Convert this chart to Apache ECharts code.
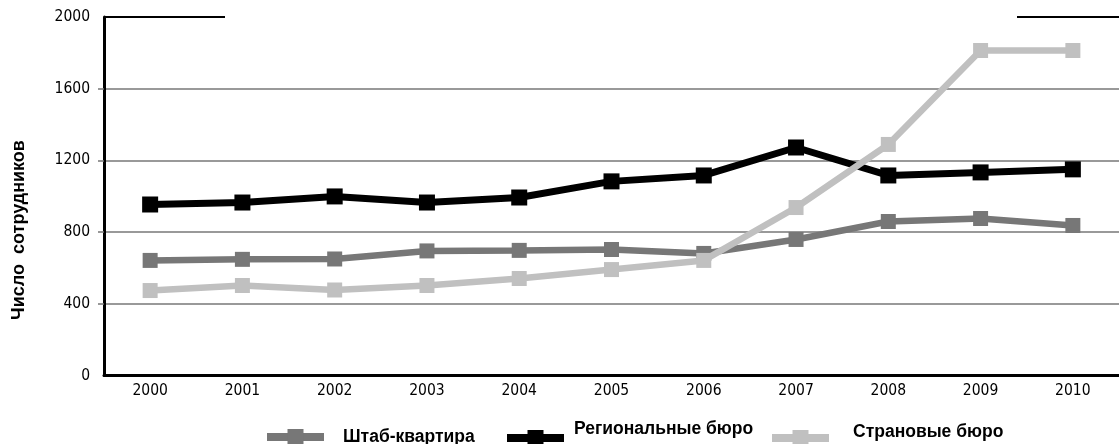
<!DOCTYPE html>
<html>
<head>
<meta charset="utf-8">
<script src="https://cdn.jsdelivr.net/npm/echarts@6/dist/echarts.min.js"></script>
<style>
  html, body { margin: 0; padding: 0; background: #fff; }
  #chart { width: 1119px; height: 444px; }
</style>
</head>
<body>
<div id="chart"></div>
<script>
const years = ['2000','2001','2002','2003','2004','2005','2006','2007','2008','2009','2010'];
const headquarters = [642, 648, 650, 695, 698, 703, 681, 759, 859, 876, 837];
const regionalOffices = [954, 965, 999, 965, 993, 1083, 1116, 1272, 1116, 1133, 1150];
const countryOffices = [474, 502, 477, 502, 541, 591, 642, 937, 1289, 1813, 1813];
const yTicks = [400, 800, 1200, 1600];
const seriesNames = ['Штаб-квартира', 'Региональные бюро', 'Страновые бюро'];
const yAxisTitle = 'Число  сотрудников';

const narrow = "'Liberation Sans Narrow', 'Arial Narrow', 'DejaVu Sans Condensed', sans-serif";
const boldFont = "'Liberation Sans', Arial, sans-serif";
const colors = ['#777777', '#000000', '#c0c0c0'];

const chart = echarts.init(document.getElementById('chart'));

function mkLegend(i, left, top, textPad) {
  return {
    show: true,
    data: [seriesNames[i]],
    left: left, top: top,
    orient: 'horizontal',
    itemWidth: 57, itemHeight: 20,
    padding: 0,
    selectedMode: false,
    lineStyle: { width: 8 },
    formatter: function (name) { return '{t|' + name + '}'; },
    textStyle: {
      fontFamily: boldFont, fontWeight: 'bold', fontSize: 17.5, color: '#000',
      rich: { t: { fontFamily: boldFont, fontWeight: 'bold', fontSize: 17.5, color: '#000', padding: textPad } }
    }
  };
}

const option = {
  animation: false,
  backgroundColor: '#fff',
  grid: { left: 104, top: 17, width: 1027, bottom: 68.5, containLabel: false },
  xAxis: {
    type: 'category',
    data: years,
    boundaryGap: true,
    axisLine: { show: true, lineStyle: { color: '#000', width: 3 } },
    axisTick: { show: false },
    axisLabel: { fontFamily: narrow, fontSize: 15.5, color: '#000', margin: 7 },
    splitLine: { show: false }
  },
  yAxis: {
    type: 'value',
    min: 0, max: 2000, interval: 400,
    axisLine: { show: true, lineStyle: { color: '#000', width: 3 } },
    axisTick: { show: true, length: 6, customValues: yTicks, lineStyle: { color: '#777', width: 1.5 } },
    axisLabel: { fontFamily: narrow, fontSize: 15.5, color: '#000', margin: 14, formatter: function (v) { return String(v); } },
    splitLine: { show: true, lineStyle: { color: '#777', width: 1.5 } }
  },
  legend: [
    mkLegend(0, 263, 428, [0, 0, 0, 14]),
    mkLegend(1, 503, 420.5, [0, 0, 17, 5]),
    mkLegend(2, 768, 423, [0, 0, 12, 19])
  ],
  series: [
    {
      name: seriesNames[0], type: 'line', data: headquarters,
      symbol: 'rect', symbolSize: 15,
      lineStyle: { color: colors[0], width: 6.5 },
      itemStyle: { color: colors[0] },
      z: 2
    },
    {
      name: seriesNames[1], type: 'line', data: regionalOffices,
      symbol: 'rect', symbolSize: 16,
      lineStyle: { color: colors[1], width: 7 },
      itemStyle: { color: colors[1] },
      z: 3
    },
    {
      name: seriesNames[2], type: 'line', data: countryOffices,
      symbol: 'rect', symbolSize: 15,
      lineStyle: { color: colors[2], width: 6.5 },
      itemStyle: { color: colors[2] },
      z: 4
    }
  ]
};
chart.setOption(option);

const yTop = chart.convertToPixel({ yAxisIndex: 0 }, 2000);
chart.setOption({
  graphic: [
    { type: 'line', shape: { x1: 104, y1: yTop, x2: 225, y2: yTop }, style: { stroke: '#000', lineWidth: 2 }, z: 10 },
    { type: 'line', shape: { x1: 1017, y1: yTop, x2: 1119, y2: yTop }, style: { stroke: '#000', lineWidth: 2 }, z: 10 },
    { type: 'text', x: 19, y: 230, rotation: Math.PI / 2,
      style: { text: yAxisTitle, font: "bold 18px 'Liberation Sans', Arial, sans-serif", fill: '#000', align: 'center', verticalAlign: 'middle' } }
  ]
});
</script>
</body>
</html>
